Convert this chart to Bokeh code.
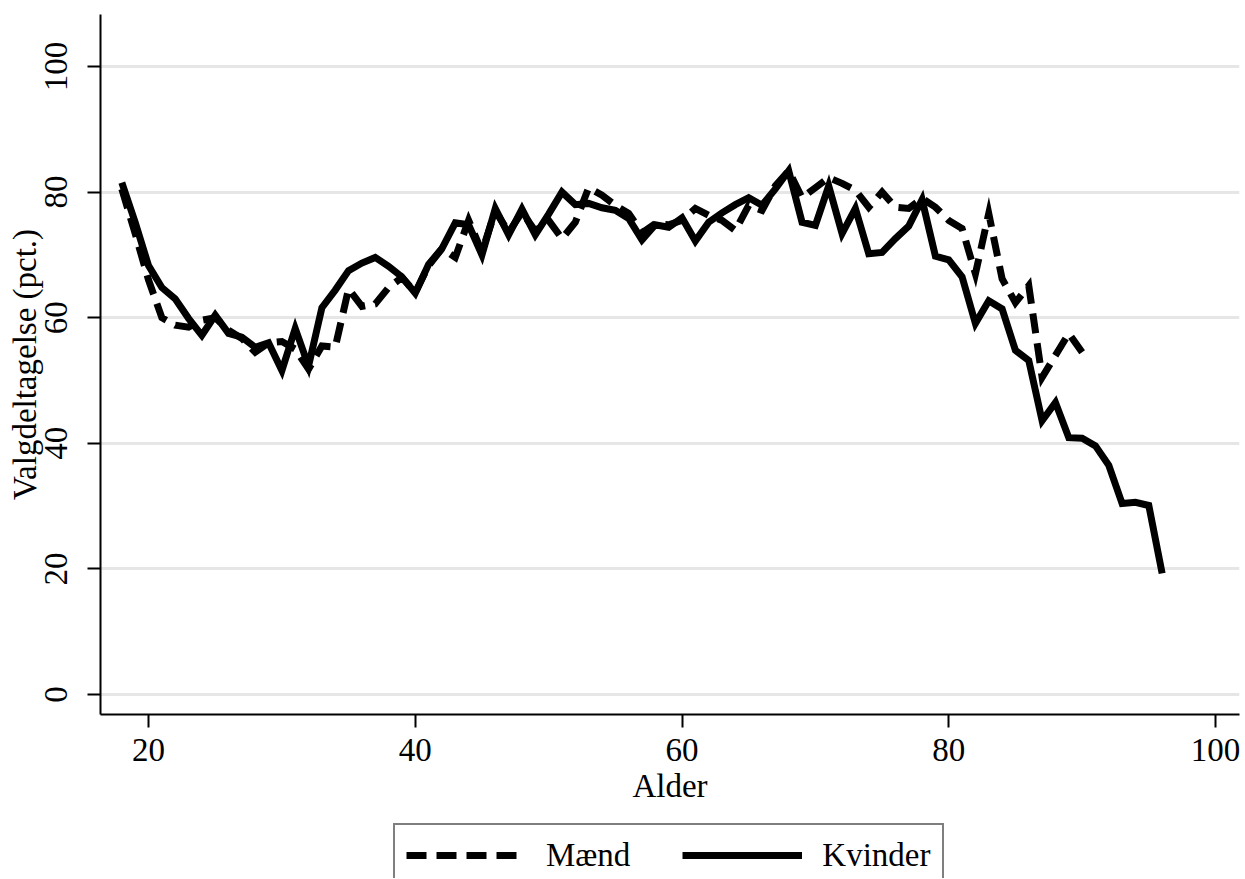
from bokeh.plotting import figure
from bokeh.models import Range1d, FixedTicker, Legend, LegendItem, ColumnDataSource
from bokeh.layouts import column
from bokeh.embed import file_html
from bokeh.resources import INLINE

# ---- data ----
ages_kvinder = list(range(18, 97))
kvinder = [81.5, 75.2, 68.3, 64.8, 63.0, 59.9, 57.2, 60.4, 57.5, 56.9,
           55.3, 56.0, 51.6, 58.3, 52.3, 61.6, 64.4, 67.5, 68.7, 69.6,
           68.2, 66.5, 63.9, 68.5, 71.0, 75.1, 74.8, 70.0, 77.4, 73.2,
           77.3, 73.2, 76.5, 80.0, 78.0, 78.2, 77.5, 77.1, 75.8, 72.4,
           74.8, 74.4, 75.9, 72.2, 75.2, 76.7, 78.0, 79.1, 77.9, 80.5,
           83.4, 75.2, 74.7, 81.0, 73.4, 77.4, 70.2, 70.4, 72.6, 74.6,
           78.8, 69.8, 69.2, 66.5, 59.1, 62.7, 61.4, 54.8, 53.2, 43.6,
           46.5, 40.9, 40.8, 39.6, 36.5, 30.4, 30.6, 30.1, 19.3]

ages_maend = list(range(18, 91))
maend = [80.5, 73.4, 66.0, 60.0, 58.8, 58.5, 59.6, 60.0, 58.0, 56.7,
         54.5, 56.0, 56.2, 55.0, 51.8, 55.5, 55.3, 64.6, 61.8, 62.2,
         64.8, 66.4, 64.0, 68.3, 71.0, 69.6, 75.5, 70.5, 77.0, 73.6,
         76.8, 73.8, 75.5, 72.6, 75.2, 80.7, 79.5, 77.9, 76.6, 73.5,
         75.0, 74.8, 75.5, 77.4, 76.3, 75.5, 73.9, 77.9, 77.1, 81.0,
         83.4, 79.1, 80.7, 82.3, 81.4, 80.3, 77.6, 80.0, 77.6, 77.4,
         79.0, 77.6, 75.5, 74.2, 67.0, 76.6, 66.2, 62.4, 65.1, 50.5,
         54.0, 57.5, 54.5]

x_ticks = [20, 40, 60, 80, 100]
y_ticks = [0, 20, 40, 60, 80, 100]
x_title = "Alder"
y_title = "Valgdeltagelse (pct.)"
labels = ["Mænd", "Kvinder"]

FONT = "Liberation Serif"
FS = "33px"
DASH = "20 10"

# ---------------- main chart ----------------
p = figure(frame_width=1139, frame_height=700,
           x_range=Range1d(16.40, 101.80), y_range=Range1d(-3.18, 108.28),
           output_backend="svg", toolbar_location=None,
           min_border_left=100, min_border_top=14, min_border_right=1,
           min_border_bottom=107, background_fill_color="white",
           border_fill_color="white")
p.outline_line_color = None

src_m = ColumnDataSource(dict(x=ages_maend, y=maend))
src_k = ColumnDataSource(dict(x=ages_kvinder, y=kvinder))
p.line("x", "y", source=src_m, line_color="black", line_width=7,
       line_dash=DASH, line_join="miter")
p.line("x", "y", source=src_k, line_color="black", line_width=7,
       line_join="miter")

for ax in (p.xaxis[0], p.yaxis[0]):
    ax.axis_line_width = 2
    ax.axis_line_color = "black"
    ax.major_tick_line_width = 2
    ax.major_tick_line_color = "black"
    ax.major_tick_in = 0
    ax.major_tick_out = 13
    ax.minor_tick_line_color = None
    ax.major_label_text_font = FONT
    ax.major_label_text_font_size = FS
    ax.major_label_text_color = "black"
    ax.axis_label_text_font = FONT
    ax.axis_label_text_font_size = FS
    ax.axis_label_text_font_style = "normal"
    ax.axis_label_text_color = "black"

p.xaxis[0].ticker = FixedTicker(ticks=x_ticks)
p.yaxis[0].ticker = FixedTicker(ticks=y_ticks)
p.xaxis[0].axis_label = x_title
p.yaxis[0].axis_label = y_title
p.xaxis[0].major_label_standoff = 11
p.xaxis[0].axis_label_standoff = 4
p.yaxis[0].major_label_standoff = 20
p.yaxis[0].axis_label_standoff = 0
p.yaxis[0].major_label_orientation = "vertical"

p.xgrid.grid_line_color = None
p.ygrid.grid_line_color = "#e6e6e6"
p.ygrid.grid_line_width = 3

# ---------------- legend strip ----------------
lg = figure(width=1240, height=57, output_backend="svg", toolbar_location=None,
            x_axis_location=None, y_axis_location=None,
            x_range=Range1d(16.40, 101.80), y_range=Range1d(500, 600),
            min_border=0, background_fill_color="white",
            border_fill_color="white")
lg.outline_line_color = None
lg.grid.visible = False
l_m = lg.line("x", "y", source=src_m, line_color="black", line_width=7,
              line_dash=DASH)
l_k = lg.line("x", "y", source=src_k, line_color="black", line_width=7)

legend = Legend(items=[LegendItem(label=labels[0], renderers=[l_m]),
                       LegendItem(label=labels[1], renderers=[l_k])],
                orientation="horizontal", location=(293, -9),
                glyph_width=120, glyph_height=38, label_height=38,
                label_standoff=20, spacing=52, padding=11, margin=0,
                border_line_color="black", border_line_width=2,
                background_fill_color="white", background_fill_alpha=1)
legend.label_text_font = FONT
legend.label_text_font_size = FS
legend.label_text_font_style = "normal"
legend.label_text_color = "black"
lg.add_layout(legend, "center")

layout = column(p, lg, spacing=0)
open("out.html", "w").write(file_html(layout, INLINE))
